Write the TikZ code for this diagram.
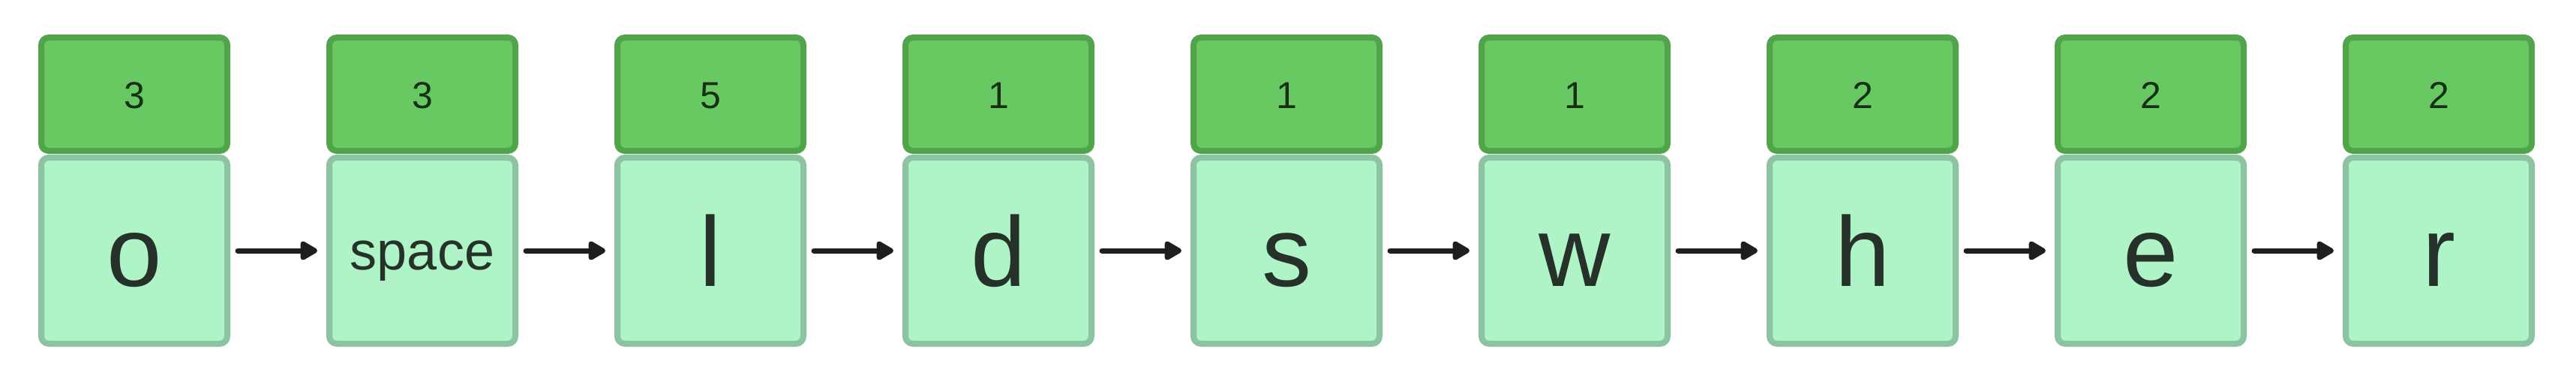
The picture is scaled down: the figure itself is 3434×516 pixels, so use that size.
\documentclass[tikz,border=0pt]{standalone}
\usepackage{fontspec}
\setmainfont{Liberation Sans}
\usetikzlibrary{arrows.meta}
\definecolor{cntfill}{HTML}{68C963}
\definecolor{cntline}{HTML}{52A44B}
\definecolor{cnttext}{HTML}{163016}
\definecolor{chrfill}{HTML}{AEF4C7}
\definecolor{chrline}{HTML}{8CC3A0}
\definecolor{chrtext}{HTML}{263229}
\definecolor{linkc}{HTML}{1E1E1E}
\begin{document}
\begin{tikzpicture}[x=0.5pt,y=-0.5pt,
  cnt/.style={draw=cntline,fill=cntfill,line width=4pt,rounded corners=5pt,
    minimum width=124pt,minimum height=75.5pt,inner sep=0pt,text=cnttext,
    font=\fontsize{25}{25}\selectfont,text height=18.5pt,text depth=0pt},
  chr/.style={draw=chrline,fill=chrfill,line width=4pt,rounded corners=5pt,
    minimum width=124pt,minimum height=124pt,inner sep=0pt,text=chrtext,
    text depth=0pt},
  link/.style={draw=linkc,line width=3.5pt,line cap=round,
    -{Triangle[length=13pt,width=14pt,round]},shorten <=5pt,shorten >=6pt}]
\useasboundingbox (0,0) rectangle (3434,516);
% count boxes on top, letters below
\foreach \ch/\n/\fs/\th [count=\i from 0] in {o/3/66/47,space/3/36/25,l/5/66/47,d/1/66/47,s/1/66/47,w/1/66/47,h/2/66/47,e/2/66/47,r/2/66/47}{
  \node[cnt] (n\i) at (179+384*\i,125.5) {\n};
  \node[chr,font=\fontsize{\fs}{\fs}\selectfont,text height=\th pt] (c\i) at (179+384*\i,334) {\ch};
}
% links
\foreach \i [evaluate=\i as \j using int(\i+1)] in {0,...,7}
  \draw[link] (c\i) -- (c\j);
\end{tikzpicture}
\end{document}
